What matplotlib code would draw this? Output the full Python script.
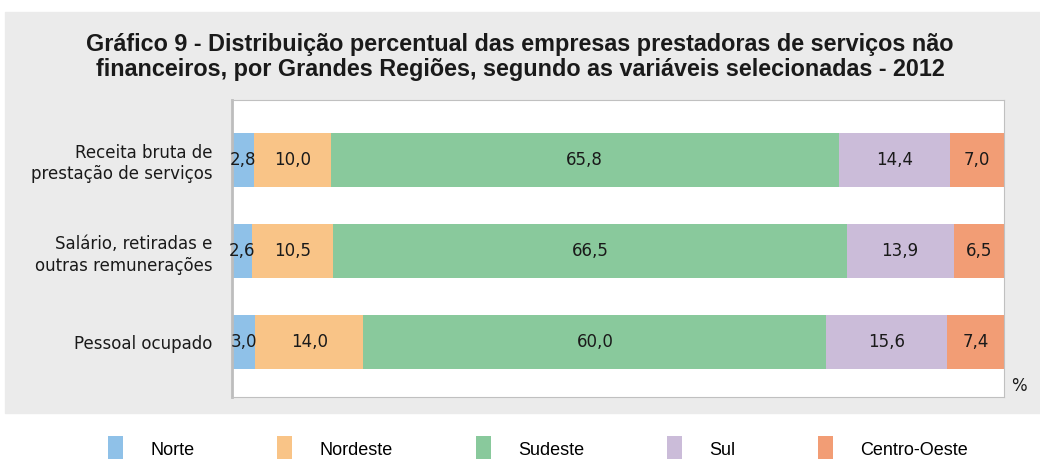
import matplotlib.pyplot as plt
from matplotlib.patches import Rectangle

categories = ['Receita bruta de\nprestação de serviços',
              'Salário, retiradas e\noutras remunerações',
              'Pessoal ocupado']
regions = ['Norte', 'Nordeste', 'Sudeste', 'Sul', 'Centro-Oeste']
norte = [2.8, 2.6, 3.0]
nordeste = [10.0, 10.5, 14.0]
sudeste = [65.8, 66.5, 60.0]
sul = [14.4, 13.9, 15.6]
centro_oeste = [7.0, 6.5, 7.4]
colors = ['#8fc1e8', '#f9c487', '#89c99c', '#cbbcd9', '#f29d75']

plt.rcParams['font.family'] = ['DejaVu Sans']

W, H = 1040, 459
fig = plt.figure(figsize=(W / 100, H / 100), dpi=100)
fig.patches.append(Rectangle((5 / W, 1 - 413 / H), 1, (413 - 12) / H,
                             transform=fig.transFigure, color='#ebebeb', zorder=-10))

fig.text(0.5, 1 - 57 / H,
         'Gráfico 9 - Distribuição percentual das empresas prestadoras de serviços não\n'
         'financeiros, por Grandes Regiões, segundo as variáveis selecionadas - 2012',
         ha='center', va='center', fontsize=16.8, fontweight='bold',
         family=['Liberation Sans', 'DejaVu Sans'], linespacing=1.15, color='#1a1a1a')

ax = fig.add_axes([232 / W, 1 - 397 / H, (1004 - 232) / W, (397 - 100) / H])
ax.set_zorder(5)
ax.set_facecolor('white')
y = [2, 1, 0]
series = [norte, nordeste, sudeste, sul, centro_oeste]
left = [0, 0, 0]
for name, vals, c in zip(regions, series, colors):
    ax.barh(y, vals, left=left, height=0.6, color=c, label=name)
    for yi, l, v in zip(y, left, vals):
        ax.text(l + v / 2, yi, f'{v:.1f}'.replace('.', ','), ha='center', va='center',
                fontsize=12, color='#1a1a1a')
    left = [a + b for a, b in zip(left, vals)]

ax.set_xlim(0, 100)
ax.set_ylim(-0.604, 2.659)
ax.set_xticks([])
ax.set_yticks(y)
ax.set_yticklabels(categories, fontsize=12, linespacing=1.25, color='#1a1a1a')
ax.tick_params(axis='y', length=0, pad=14)
for s in ['top', 'right', 'bottom']:
    ax.spines[s].set_color('#c0c0c0')
ax.spines['left'].set_color('#bdbdbd')
ax.spines['left'].set_linewidth(2)
fig.text(1019 / W, 1 - 386 / H, '%', ha='center', va='center', fontsize=12,
         color='#1a1a1a')

leg = fig.legend(loc='center', bbox_to_anchor=(538 / W, 1 - 449 / H), ncol=5, frameon=False,
                 prop={'family': ['Liberation Sans', 'DejaVu Sans'], 'size': 13},
                 handlelength=0.83, handleheight=1.8, handletextpad=1.5,
                 columnspacing=4.6)

fig.savefig('out.png', dpi=100)
